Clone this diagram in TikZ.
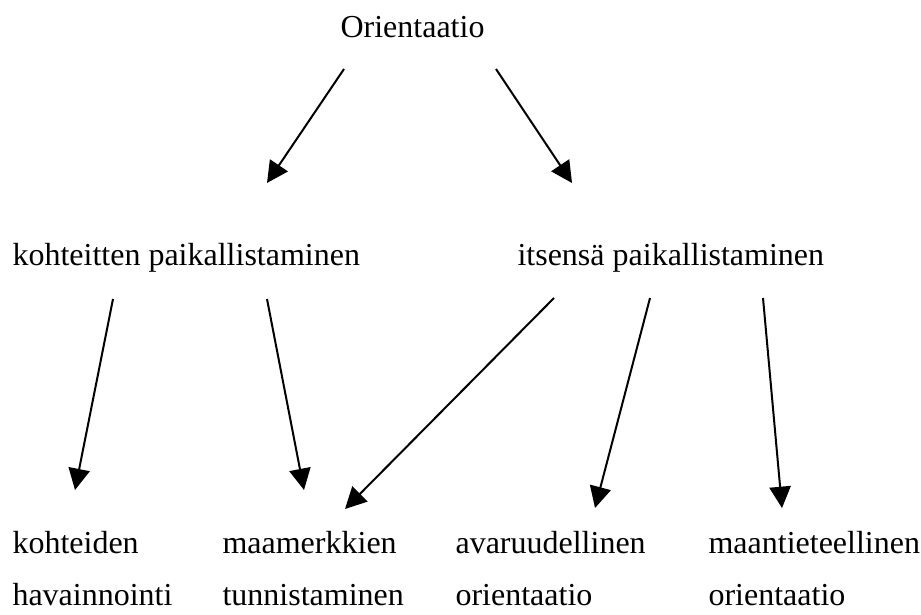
\documentclass[tikz,border=0pt]{standalone}
\usepackage{fontspec}
\setmainfont{Liberation Serif}
\usetikzlibrary{arrows.meta,calc}
\tikzset{
  term/.style={font=\fontsize{12}{19.5}\selectfont,inner sep=0pt,anchor=base west,align=left},
  arr/.style={-{Triangle[length=8pt,width=8pt]},line width=0.75pt}
}
\begin{document}
\begin{tikzpicture}[x=0.375pt,y=-0.375pt]
\useasboundingbox (0,0) rectangle (921,614);
% top
\node[term] (ori) at (340,37) {Orientaatio};
% middle level
\node[term] (kp) at (12,265) {kohteitten paikallistaminen};
\node[term] (ip) at (517,265) {itsensä paikallistaminen};
% bottom level (base = last line)
\node[term] (kh) at (12,605) {kohteiden\\havainnointi};
\node[term] (mt) at (222,605) {maamerkkien\\tunnistaminen};
\node[term] (ao) at (455,605) {avaruudellinen\\orientaatio};
\node[term] (mo) at (708,605) {maantieteellinen\\orientaatio};
% arrows
\draw[arr] ($(ori.base west)+(4,32)$) -- ($(kp.base west)+(255,-82)$);
\draw[arr] ($(ori.base west)+(156,32)$) -- ($(ip.base west)+(55,-82)$);
\draw[arr] ($(kp.base west)+(101,34)$) -- ($(kh.base west)+(63,-115)$);
\draw[arr] ($(kp.base west)+(255,34)$) -- ($(mt.base west)+(82,-115)$);
\draw[arr] ($(ip.base west)+(37,33)$) -- ($(mt.base west)+(123,-96)$);
\draw[arr] ($(ip.base west)+(133,33)$) -- ($(ao.base west)+(140,-97)$);
\draw[arr] ($(ip.base west)+(246,33)$) -- ($(mo.base west)+(74,-97)$);
\end{tikzpicture}
\end{document}
